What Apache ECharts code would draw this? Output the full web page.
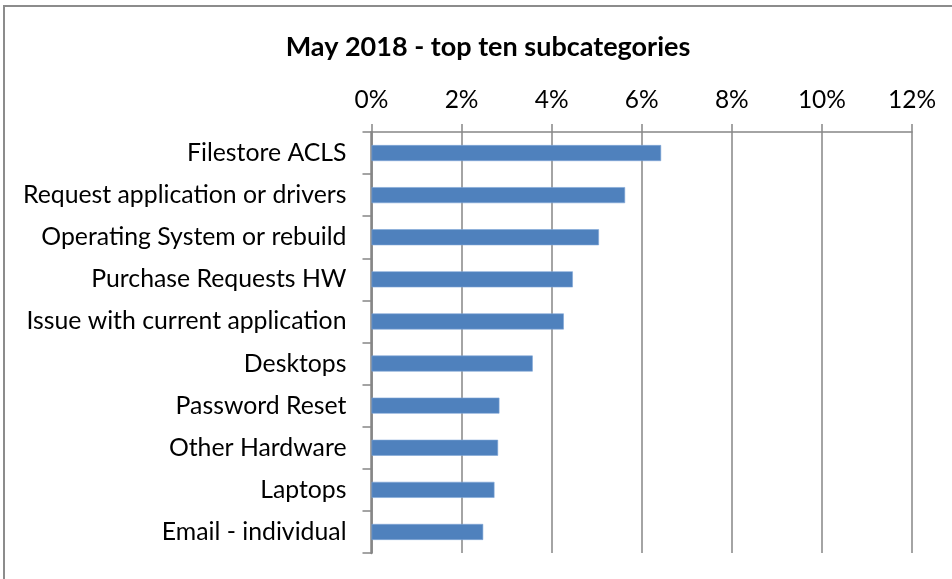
<!DOCTYPE html>
<html>
<head>
<meta charset="utf-8">
<script src="https://cdn.jsdelivr.net/npm/echarts@6/dist/echarts.min.js"></script>
<style>
  html, body { margin: 0; padding: 0; background: #fff; }
  #chart { width: 952px; height: 579px; }
</style>
</head>
<body>
<div id="chart"></div>
<script>
// Top ten ticket subcategories for May 2018, share of all tickets (%)
const categories = [
  'Filestore ACLS',
  'Request application or drivers',
  'Operating System or rebuild',
  'Purchase Requests HW',
  'Issue with current application',
  'Desktops',
  'Password Reset',
  'Other Hardware',
  'Laptops',
  'Email - individual'
];
const shares = [6.43, 5.63, 5.05, 4.47, 4.27, 3.58, 2.84, 2.81, 2.73, 2.48];
const axisMax = 12;
const axisStep = 2;

const FONT = 'Lato, "Open Sans", sans-serif';
const GREY = '#868686';

const chart = echarts.init(document.getElementById('chart'), null, { renderer: 'canvas' });
chart.setOption({
  animation: false,
  backgroundColor: '#ffffff',
  title: {
    text: 'May 2018 - top ten subcategories',
    left: 483,
    top: 29,
    textAlign: 'center',
    textStyle: { fontFamily: FONT, fontSize: 27, fontWeight: 'bold', color: '#000' }
  },
  graphic: [{
    type: 'rect',
    shape: { x: 4, y: 6, width: 960, height: 600 },
    style: { fill: 'none', stroke: '#8c8c8c', lineWidth: 2 },
    silent: true
  }],
  grid: { left: 371.5, right: 40, top: 132, bottom: 26, containLabel: false },
  xAxis: {
    type: 'value',
    position: 'top',
    min: 0,
    max: axisMax,
    interval: axisStep,
    axisLine: { show: true, lineStyle: { color: GREY, width: 1.5 } },
    axisTick: { show: true, length: 8, lineStyle: { color: GREY, width: 1.5 } },
    splitLine: { show: true, lineStyle: { color: GREY, width: 1.5 } },
    axisLabel: {
      formatter: '{value}%',
      fontFamily: FONT, fontSize: 24.5, color: '#000', margin: 19
    }
  },
  yAxis: {
    type: 'category',
    inverse: true,
    data: categories,
    axisLine: { show: true, lineStyle: { color: GREY, width: 2.5 } },
    axisTick: { show: true, length: 9, alignWithLabel: false, lineStyle: { color: GREY, width: 1.5 } },
    axisLabel: { fontFamily: FONT, fontSize: 24.8, color: '#000', margin: 25 },
    splitLine: { show: false }
  },
  series: [{
    type: 'bar',
    data: shares,
    barWidth: '38%',
    itemStyle: { color: '#4F81BD', borderColor: '#7fa6d6', borderWidth: 0.6 }
  }]
});
</script>
</body>
</html>
